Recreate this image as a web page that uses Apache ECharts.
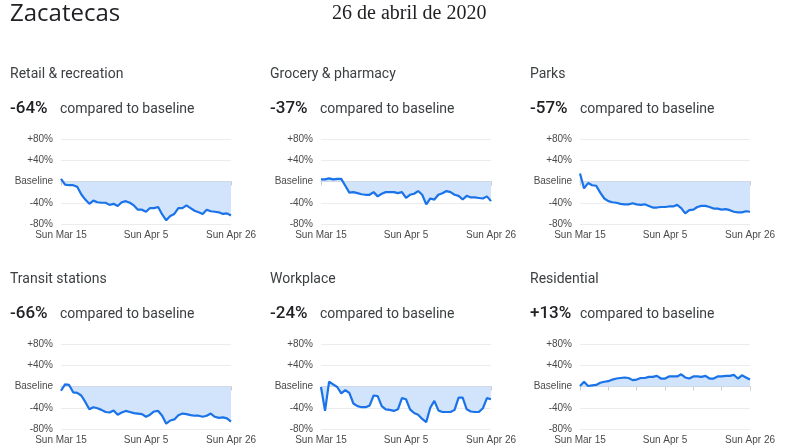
<!DOCTYPE html>
<html>
<head>
<meta charset="utf-8">
<title>Zacatecas</title>
<script src="https://cdn.jsdelivr.net/npm/echarts@6/dist/echarts.min.js"></script>
<style>
  html, body { margin: 0; padding: 0; background: #fff; }
  #chart { width: 800px; height: 446px; }
</style>
</head>
<body>
<div id="chart"></div>
<script>
// dias: Mar 15 .. Apr 26
var days = ['Sun Mar 15','Mon Mar 16','Tue Mar 17','Wed Mar 18','Thu Mar 19','Fri Mar 20','Sat Mar 21',
  'Sun Mar 22','Mon Mar 23','Tue Mar 24','Wed Mar 25','Thu Mar 26','Fri Mar 27','Sat Mar 28',
  'Sun Mar 29','Mon Mar 30','Tue Mar 31','Wed Apr 1','Thu Apr 2','Fri Apr 3','Sat Apr 4',
  'Sun Apr 5','Mon Apr 6','Tue Apr 7','Wed Apr 8','Thu Apr 9','Fri Apr 10','Sat Apr 11',
  'Sun Apr 12','Mon Apr 13','Tue Apr 14','Wed Apr 15','Thu Apr 16','Fri Apr 17','Sat Apr 18',
  'Sun Apr 19','Mon Apr 20','Tue Apr 21','Wed Apr 22','Thu Apr 23','Fri Apr 24','Sat Apr 25','Sun Apr 26']

var retail = [5,-6,-7,-7,-10,-24,-34,-42,-36,-39,-40,-40,-44,-42,-46,-39,-37,-40,-45,-53,-53,-57,-50,-50,-48,-62,-73,-65,-61,-50,-50,-45,-50,-55,-58,-61,-53,-56,-57,-58,-61,-60,-64]
var grocery = [4,4,6,4,5,5,-8,-21,-20,-22,-24,-25,-25,-20,-28,-23,-20,-20,-20,-22,-20,-31,-25,-23,-18,-25,-43,-32,-34,-25,-22,-18,-20,-25,-27,-34,-27,-30,-30,-31,-32,-28,-37]
var parks = [15,-13,-3,-7,-8,-21,-32,-37,-39,-40,-42,-43,-43,-41,-43,-44,-43,-46,-49,-49,-48,-48,-47,-47,-44,-50,-60,-54,-53,-48,-46,-46,-48,-51,-51,-53,-52,-54,-57,-58,-58,-56,-57]
var transit = [-8,4,3,-11,-12,-17,-29,-43,-39,-41,-44,-48,-49,-45,-53,-49,-46,-48,-50,-51,-52,-57,-53,-47,-46,-55,-70,-64,-62,-54,-51,-52,-54,-55,-55,-57,-55,-51,-57,-59,-58,-60,-66]
var workplace = [-1,-46,9,4,-1,-13,-7,-12,-32,-37,-39,-39,-36,-17,-18,-37,-43,-44,-46,-43,-22,-24,-43,-50,-53,-61,-67,-40,-27,-45,-48,-48,-48,-44,-21,-21,-43,-47,-48,-48,-41,-22,-24]
var residential = [1,9,1,2,3,7,9,10,13,15,16,17,16,12,13,16,16,18,18,20,15,15,19,19,19,23,17,15,19,19,18,20,15,15,19,19,20,20,22,15,21,17,13]

var names = ['Retail & recreation','Grocery & pharmacy','Parks','Transit stations','Workplace','Residential']
var changes = ['-64%','-37%','-57%','-66%','-24%','+13%']
var series_data = [retail, grocery, parks, transit, workplace, residential]

var colX = [10, 270, 530]
var plotLeft = [61, 321, 580]
var plotW = 170
var rowTitleY = [73, 278]
var rowSubY = [107, 312]
var plotTop = [139, 344]
var plotH = 85

var myChart = echarts.init(document.getElementById('chart'))

var grids = [], xAxes = [], yAxes = [], series = []
var graphics = [
  { type: 'text', left: 10, top: 2, style: { text: 'Zacatecas', font: '24px "Open Sans", sans-serif', fill: '#202124' } },
  { type: 'text', left: 332, top: 4, style: { text: '26 de abril de 2020', font: '20px "Liberation Serif", serif', fill: '#202124' } }
]

for (var i = 0; i < 6; i++) {
  var r = Math.floor(i / 3), c = i % 3
  grids.push({ left: plotLeft[c], top: plotTop[r], width: plotW, height: plotH })
  xAxes.push({
    type: 'category', gridIndex: i, data: days, boundaryGap: false,
    axisLine: { lineStyle: { color: '#cccccc' } },
    axisTick: { show: true, interval: 6, length: 4, lineStyle: { color: '#cccccc' } },
    axisLabel: { interval: 20, color: '#4a4a4a', fontSize: 10, fontFamily: 'Liberation Sans, Arial', margin: 6, showMaxLabel: true }
  })
  yAxes.push({
    type: 'value', gridIndex: i, min: -80, max: 80, interval: 40,
    axisLine: { show: false }, axisTick: { show: false },
    splitLine: { lineStyle: { color: '#ececec' } },
    axisLabel: {
      color: '#4a4a4a', fontSize: 10, fontFamily: 'Liberation Sans, Arial', margin: 8,
      formatter: function (v) { return v === 0 ? 'Baseline' : (v > 0 ? '+' : '') + v + '%' }
    }
  })
  series.push({
    type: 'line', xAxisIndex: i, yAxisIndex: i, data: series_data[i],
    showSymbol: false, symbol: 'none',
    lineStyle: { color: '#1a73e8', width: 2.2 },
    areaStyle: { color: '#d2e3fc', opacity: 1, origin: 0 },
    silent: true
  })
  graphics.push({ type: 'text', left: colX[c], top: rowTitleY[r] - 6, style: { text: names[i], font: '14px Roboto, sans-serif', fill: '#3c4043' } })
  graphics.push({ type: 'text', left: colX[c], top: rowSubY[r] - 7, style: { text: changes[i], font: '500 17px Roboto, sans-serif', fill: '#202124' } })
  graphics.push({ type: 'text', left: colX[c] + 50, top: rowSubY[r] - 5, style: { text: 'compared to baseline', font: '14px Roboto, sans-serif', fill: '#3c4043' } })
}

myChart.setOption({
  animation: false,
  backgroundColor: '#ffffff',
  grid: grids,
  xAxis: xAxes,
  yAxis: yAxes,
  series: series,
  graphic: graphics
})
window.addEventListener('resize', () => { myChart.resize() })
</script>
</body>
</html>
